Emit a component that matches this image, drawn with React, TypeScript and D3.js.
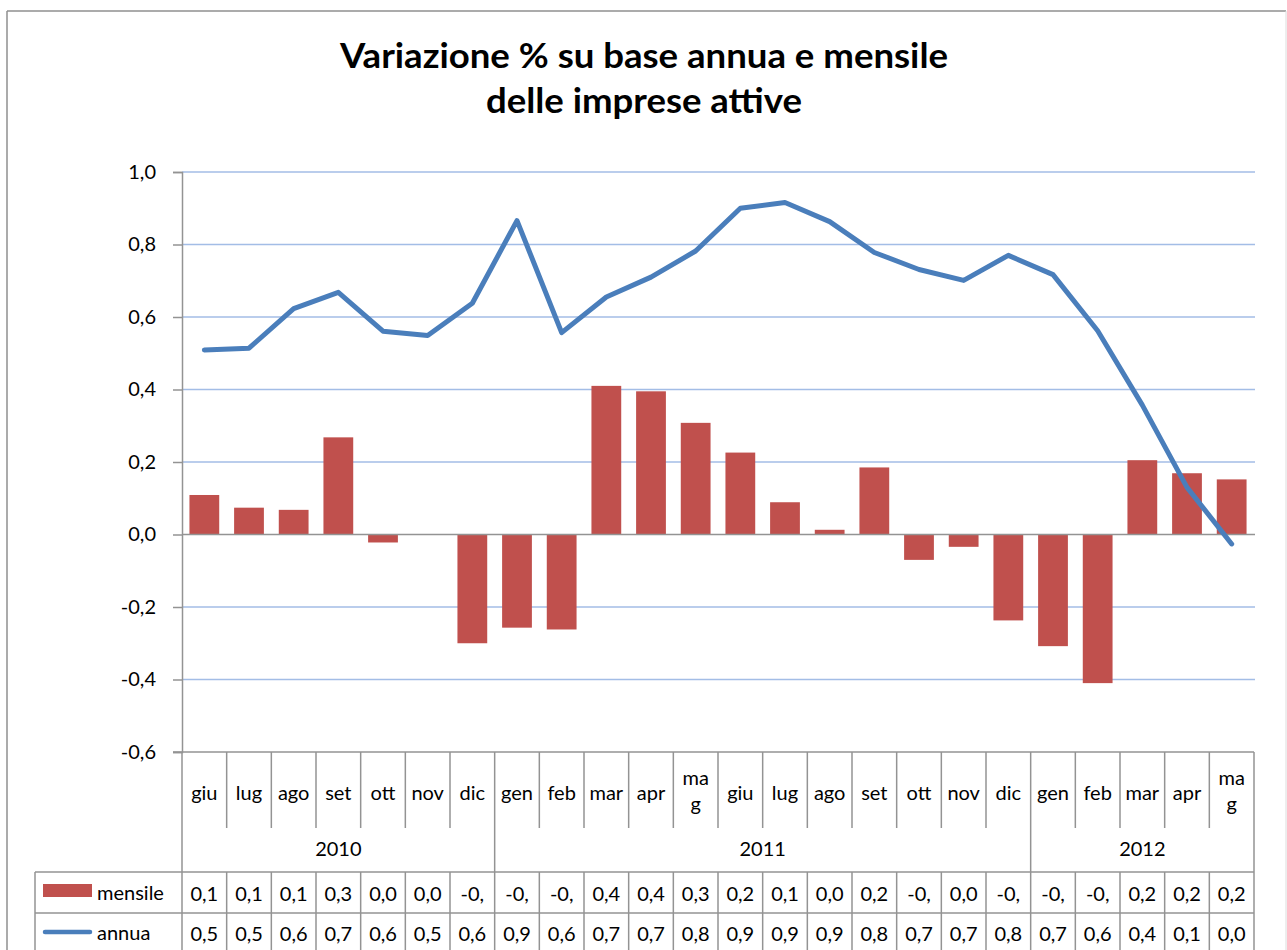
import React, { useRef, useEffect } from "react";
import * as d3 from "d3";

// data
const months = ["giu", "lug", "ago", "set", "ott", "nov", "dic", "gen", "feb", "mar", "apr", "mag",
  "giu", "lug", "ago", "set", "ott", "nov", "dic", "gen", "feb", "mar", "apr", "mag"];
const yearLabels = ["2010", "2011", "2012"];
const yearSpans = [7, 12, 5];
const mensile = [0.109, 0.074, 0.068, 0.268, -0.022, 0.0, -0.3, -0.257, -0.262, 0.41, 0.395, 0.308,
  0.226, 0.089, 0.013, 0.185, -0.07, -0.034, -0.237, -0.308, -0.41, 0.205, 0.169, 0.152];
const annua = [0.509, 0.514, 0.623, 0.668, 0.561, 0.549, 0.638, 0.866, 0.557, 0.655, 0.71, 0.782,
  0.9, 0.916, 0.863, 0.778, 0.731, 0.701, 0.77, 0.717, 0.562, 0.357, 0.13, -0.026];
const yTicks = [-0.6, -0.4, -0.2, 0, 0.2, 0.4, 0.6, 0.8, 1.0];
const titleLines = ["Variazione % su base annua e mensile", "delle imprese attive"];
const seriesNames = ["mensile", "annua"];

const FONT = "Lato, 'Open Sans', sans-serif";
const RED = "#C0504D";
const BLUE = "#4A7EBB";
const GRID = "#a3bde6";
const LINE = "#939393";

// excel-like cell text: 1 decimal, comma, "-0," when it doesn't fit
const cellText = (v: number) => {
  let s = d3.format(".1f")(v).replace(".", ",").replace("−", "-");
  if (s === "-0,0") s = "0,0";
  if (s.startsWith("-")) s = s.slice(0, 3);
  return s;
};

const App = () => {
  const container = useRef<SVGSVGElement>(null);

  const width = 1287;
  const height = 950;
  const left = 182;
  const right = 1254;
  const top = 172;
  const bottom = 752;

  useEffect(() => {
    const svg = d3.select(container.current);
    svg.selectAll("*").remove();

    const idx = months.map((_, i) => i);

    const xScale = d3.scaleBand<number>().domain(idx).range([left, right])
      .paddingInner(1 / 3).paddingOuter(1 / 6);
    const cell = d3.scaleBand<number>().domain(idx).range([left, right]).padding(0);
    const yScale = d3.scaleLinear().domain([-0.6, 1.0]).range([bottom, top]);

    // frame
    svg.append("line").attr("x1", 7).attr("x2", 1286).attr("y1", 11).attr("y2", 11)
      .attr("stroke", "#8f8f8f").attr("stroke-width", 1.5);
    svg.append("line").attr("x1", 7).attr("x2", 7).attr("y1", 11).attr("y2", height)
      .attr("stroke", "#8f8f8f").attr("stroke-width", 1.5);
    svg.append("line").attr("x1", 1286).attr("x2", 1286).attr("y1", 11).attr("y2", height)
      .attr("stroke", "#dcdcdc").attr("stroke-width", 1);

    // title
    svg.append("g").selectAll("text").data(titleLines).enter().append("text")
      .attr("x", 644)
      .attr("y", (d, i) => 68 + i * 45)
      .attr("text-anchor", "middle")
      .attr("textLength", (d, i) => (i === 0 ? 608 : 316))
      .attr("lengthAdjust", "spacingAndGlyphs")
      .style("font-family", FONT)
      .style("font-weight", "bold")
      .style("font-size", "35px")
      .style("fill", "#000")
      .text(d => d);

    // gridlines
    svg.append("g").selectAll("line").data(yTicks.filter(t => t > -0.6 && t !== 0)).enter().append("line")
      .attr("x1", left).attr("x2", right + 1)
      .attr("y1", d => yScale(d)).attr("y2", d => yScale(d))
      .attr("stroke", GRID).attr("stroke-width", 1.4);

    // bars
    svg.append("g").attr("fill", RED).selectAll("rect").data(mensile).enter().append("rect")
      .attr("x", (d, i) => xScale(i)!)
      .attr("y", d => yScale(Math.max(0, d)))
      .attr("width", xScale.bandwidth())
      .attr("height", d => Math.abs(yScale(d) - yScale(0)));

    // zero line
    svg.append("line").attr("x1", left).attr("x2", right + 1)
      .attr("y1", yScale(0)).attr("y2", yScale(0))
      .attr("stroke", LINE).attr("stroke-width", 1.5);

    // y axis
    const yAxis = svg.append("g").attr("transform", `translate(${left}, 0)`)
      .call(d3.axisLeft(yScale).tickValues(yTicks).tickSize(9).tickPadding(17)
        .tickFormat(d => d3.format(".1f")(d as number).replace(".", ",").replace("−", "-")));
    yAxis.select(".domain").attr("stroke", LINE).attr("stroke-width", 1.5);
    yAxis.selectAll(".tick line").attr("stroke", LINE).attr("stroke-width", 1.5);
    yAxis.selectAll("text").style("font-family", FONT).style("font-size", "20px").style("fill", "#000");

    // annua line
    const line = d3.line<number>()
      .x((d, i) => xScale(i)! + xScale.bandwidth() / 2)
      .y(d => yScale(d));
    svg.append("path").datum(annua)
      .attr("d", line)
      .attr("fill", "none")
      .attr("stroke", BLUE)
      .attr("stroke-width", 5)
      .attr("stroke-linejoin", "round")
      .attr("stroke-linecap", "round");

    // data table
    const table = svg.append("g");
    const rowTop = 872;
    const rowMid = 913;
    const rowEnd = 960;
    const yearStarts = d3.cumsum(yearSpans).map((c, i) => c - yearSpans[i]);

    table.append("line").attr("x1", left - 9).attr("x2", right).attr("y1", bottom).attr("y2", bottom)
      .attr("stroke", LINE).attr("stroke-width", 1.5);
    // category boundaries
    table.selectAll(".sep").data(d3.range(1, months.length)).enter().append("line")
      .attr("x1", d => cell(d)!).attr("x2", d => cell(d)!)
      .attr("y1", bottom)
      .attr("y2", d => (yearStarts.includes(d) ? rowEnd : 828))
      .attr("stroke", LINE).attr("stroke-width", 1.5);
    table.selectAll(".rowsep").data(d3.range(1, months.length).filter(d => !yearStarts.includes(d)))
      .enter().append("line")
      .attr("x1", d => cell(d)!).attr("x2", d => cell(d)!)
      .attr("y1", rowTop).attr("y2", rowEnd)
      .attr("stroke", LINE).attr("stroke-width", 1.5);
    [left, right].forEach(x => {
      table.append("line").attr("x1", x).attr("x2", x).attr("y1", bottom).attr("y2", rowEnd)
        .attr("stroke", LINE).attr("stroke-width", 1.5);
    });
    table.append("line").attr("x1", 35).attr("x2", 35).attr("y1", rowTop).attr("y2", rowEnd)
      .attr("stroke", LINE).attr("stroke-width", 1.5);
    [rowTop, rowMid].forEach(y => {
      table.append("line").attr("x1", 35).attr("x2", right).attr("y1", y).attr("y2", y)
        .attr("stroke", LINE).attr("stroke-width", 1.5);
    });

    const textStyle = (sel: any) => sel
      .style("font-family", FONT).style("font-size", "20px").style("fill", "#000")
      .attr("dominant-baseline", "central");

    // month labels ("mag" wraps in the narrow cell)
    months.forEach((m, i) => {
      const cx = cell(i)! + cell.bandwidth() / 2;
      const parts = m === "mag" ? ["ma", "g"] : [m];
      parts.forEach((p, k) => {
        table.append("text").attr("x", cx)
          .attr("y", parts.length > 1 ? 777 + k * 26 : 792)
          .attr("text-anchor", "middle").call(textStyle).text(p);
      });
    });

    // year labels
    yearLabels.forEach((y, i) => {
      const x0 = cell(yearStarts[i])!;
      const x1 = x0 + yearSpans[i] * cell.step();
      table.append("text").attr("x", (x0 + x1) / 2).attr("y", 848)
        .attr("text-anchor", "middle").call(textStyle).text(y);
    });

    // value rows
    [mensile, annua].forEach((series, r) => {
      table.selectAll(`.v${r}`).data(series).enter().append("text")
        .attr("x", (d, i) => cell(i)! + cell.bandwidth() / 2)
        .attr("y", r === 0 ? 893 : 933)
        .attr("text-anchor", "middle").call(textStyle)
        .text(d => cellText(d));
    });

    // legend keys in the table
    table.append("rect").attr("x", 43).attr("y", 884).attr("width", 49).attr("height", 13).attr("fill", RED);
    table.append("line").attr("x1", 45).attr("x2", 90).attr("y1", 932).attr("y2", 932)
      .attr("stroke", BLUE).attr("stroke-width", 4.5).attr("stroke-linecap", "round");
    seriesNames.forEach((s, r) => {
      table.append("text").attr("x", 97).attr("y", r === 0 ? 892 : 932).call(textStyle).text(s);
    });
  }, []);

  return (
    <div style={{ position: "absolute", top: 0, left: 0, width: width, height: height, background: "#fff" }}>
      <svg ref={container} width={width} height={height} style={{ display: "block" }} />
    </div>
  );
};

export default App;
